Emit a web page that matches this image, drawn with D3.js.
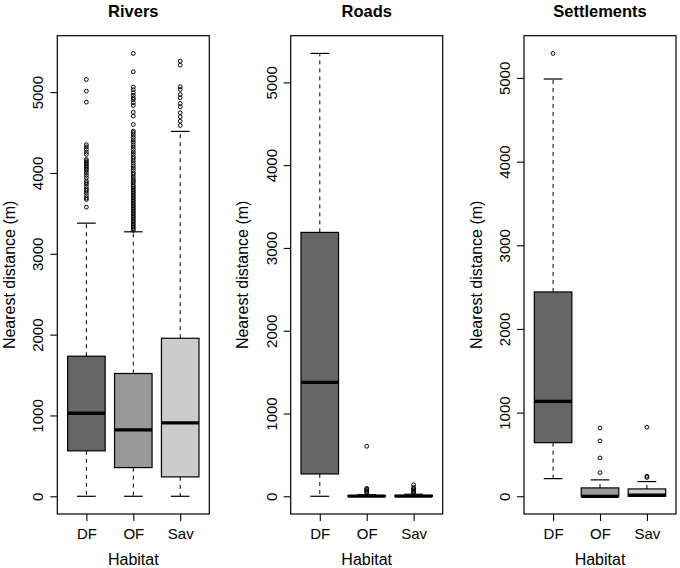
<!DOCTYPE html>
<html>
<head>
<meta charset="utf-8">
<script src="https://cdn.jsdelivr.net/npm/d3@7"></script>
<style>
  html, body { margin: 0; padding: 0; background: #fff; }
  svg { display: block; font-family: "Liberation Sans", Arial, Helvetica, sans-serif; }
</style>
</head>
<body>
<svg id="chart" width="680" height="568"></svg>
<script>
// ---------------- DATA ----------------
const categories = ["DF", "OF", "Sav"];
const panelTitles = ["Rivers", "Roads", "Settlements"];
const yTicks = [0, 1000, 2000, 3000, 4000, 5000];

// Rivers
const riversLow = [0, 0, 0];
const riversQ1 = [562, 355, 240];
const riversMedian = [1027, 822, 908];
const riversQ3 = [1733, 1519, 1955];
const riversHigh = [3379, 3272, 4514];
const riversOutDF = [3577, 3672, 3690, 3720, 3750, 3780, 3800, 3830, 3860, 3880, 3900, 3941, 3970, 4000, 4030, 4050, 4070, 4090, 4110, 4130, 4150, 4167, 4229, 4257, 4291, 4323, 4350, 4876, 5012, 5157];
const riversOutOF = [3290, 3310, 3330, 3350, 3370, 3390, 3410, 3430, 3450, 3470, 3490, 3510, 3530, 3550, 3570, 3590, 3610, 3630, 3650, 3670, 3690, 3710, 3730, 3750, 3770, 3790, 3810, 3830, 3850, 3880, 3900, 3920, 3950, 3980, 4000, 4030, 4060, 4090, 4120, 4150, 4180, 4200, 4230, 4260, 4290, 4320, 4350, 4380, 4410, 4440, 4470, 4500, 4517, 4600, 4703, 4752, 4835, 4870, 4910, 4930, 4960, 4993, 5030, 5062, 5252, 5479];
const riversOutSav = [4588, 4641, 4695, 4745, 4819, 4860, 4930, 4971, 5033, 5067, 5334, 5384];

// Roads
const roadsLow = [0, 0, 0];
const roadsQ1 = [270, 0, 0];
const roadsMedian = [1377, 2, 3];
const roadsQ3 = [3188, 8, 10];
const roadsHigh = [5350, 20, 25];
const roadsOutDF = [];
const roadsOutOF = [40, 55, 70, 85, 95, 604];
const roadsOutSav = [40, 50, 60, 75, 90, 105, 140];

// Settlements
const settleLow = [211, 0, 0];
const settleQ1 = [641, 0, 0];
const settleMedian = [1135, 0, 15];
const settleQ3 = [2442, 100, 88];
const settleHigh = [4987, 196, 176];
const settleOutDF = [5293];
const settleOutOF = [283, 459, 662, 817];
const settleOutSav = [225, 240, 825];

// ---------------- BUILD ----------------
const panels = [
  { title: panelTitles[0], low: riversLow, q1: riversQ1, med: riversMedian, q3: riversQ3, high: riversHigh, out: [riversOutDF, riversOutOF, riversOutSav] },
  { title: panelTitles[1], low: roadsLow, q1: roadsQ1, med: roadsMedian, q3: roadsQ3, high: roadsHigh, out: [roadsOutDF, roadsOutOF, roadsOutSav] },
  { title: panelTitles[2], low: settleLow, q1: settleQ1, med: settleMedian, q3: settleQ3, high: settleHigh, out: [settleOutDF, settleOutOF, settleOutSav] }
];

const fills = ["#666666", "#999999", "#cccccc"];
const lefts = [57.3, 290.7, 524];
const plotW = 152;
const plotTop = 35.7, plotBottom = 514;

const svg = d3.select("#chart");

panels.forEach((p, pi) => {
  const left = lefts[pi];
  const right = left + plotW;
  const cx = (left + right) / 2;

  const allVals = [].concat(p.low, p.high, ...p.out);
  const mn = d3.min(allVals), mx = d3.max(allVals);
  const ext = (mx - mn) * 0.04;
  const y = d3.scaleLinear().domain([mn - ext, mx + ext]).range([plotBottom, plotTop]);
  const x = d3.scaleLinear().domain([0.38, 3.62]).range([left, right]);
  const unit = x(2) - x(1);
  const halfBox = 0.4 * unit;
  const halfStaple = 0.2 * unit;

  const g = svg.append("g");

  const rows = categories.map((c, i) => ({
    c, i, pos: i + 1,
    low: p.low[i], q1: p.q1[i], med: p.med[i], q3: p.q3[i], high: p.high[i], out: p.out[i]
  }));

  // whiskers
  g.selectAll(".wu").data(rows).join("line")
    .attr("x1", d => x(d.pos)).attr("x2", d => x(d.pos))
    .attr("y1", d => y(d.q3)).attr("y2", d => y(d.high))
    .attr("stroke", "#000").attr("stroke-width", 1).attr("stroke-dasharray", "4,4");
  g.selectAll(".wl").data(rows).join("line")
    .attr("x1", d => x(d.pos)).attr("x2", d => x(d.pos))
    .attr("y1", d => y(d.q1)).attr("y2", d => y(d.low))
    .attr("stroke", "#000").attr("stroke-width", 1).attr("stroke-dasharray", "4,4");
  // staples
  g.selectAll(".su").data(rows).join("line")
    .attr("x1", d => x(d.pos) - halfStaple).attr("x2", d => x(d.pos) + halfStaple)
    .attr("y1", d => y(d.high)).attr("y2", d => y(d.high))
    .attr("stroke", "#000").attr("stroke-width", 1.2);
  g.selectAll(".sl").data(rows).join("line")
    .attr("x1", d => x(d.pos) - halfStaple).attr("x2", d => x(d.pos) + halfStaple)
    .attr("y1", d => y(d.low)).attr("y2", d => y(d.low))
    .attr("stroke", "#000").attr("stroke-width", 1.2);
  // boxes
  g.selectAll(".box").data(rows).join("rect")
    .attr("x", d => x(d.pos) - halfBox).attr("width", 2 * halfBox)
    .attr("y", d => y(d.q3)).attr("height", d => Math.max(0.01, y(d.q1) - y(d.q3)))
    .attr("fill", d => fills[d.i]).attr("stroke", "#000").attr("stroke-width", 1.2);
  // medians
  g.selectAll(".med").data(rows).join("line")
    .attr("x1", d => x(d.pos) - halfBox).attr("x2", d => x(d.pos) + halfBox)
    .attr("y1", d => y(d.med)).attr("y2", d => y(d.med))
    .attr("stroke", "#000").attr("stroke-width", 3.3);
  // outliers
  rows.forEach(r => {
    g.selectAll(null).data(r.out).join("circle")
      .attr("cx", x(r.pos)).attr("cy", d => y(d)).attr("r", 1.9)
      .attr("fill", "none").attr("stroke", "#000").attr("stroke-width", 1);
  });

  // frame
  g.append("rect").attr("x", left).attr("y", plotTop).attr("width", plotW).attr("height", plotBottom - plotTop)
    .attr("fill", "none").attr("stroke", "#000").attr("stroke-width", 1.2);

  // y axis
  const ya = g.append("g").attr("transform", `translate(${left},0)`)
    .call(d3.axisLeft(y).tickValues(yTicks).tickFormat(d3.format("d")).tickSize(7).tickSizeOuter(0));
  ya.select(".domain").remove();
  ya.selectAll(".tick line").attr("stroke", "#000").attr("stroke-width", 1.1);
  ya.selectAll(".tick text")
    .attr("transform", "rotate(-90)")
    .attr("x", 0).attr("y", -14).attr("dy", 0)
    .attr("text-anchor", "middle")
    .attr("font-size", 15).attr("fill", "#000")
    .style("font-family", "'Liberation Sans', Arial, sans-serif");

  // x axis
  const xa = g.append("g").attr("transform", `translate(0,${plotBottom})`)
    .call(d3.axisBottom(x).tickValues([1, 2, 3]).tickFormat(d => categories[d - 1]).tickSize(7).tickSizeOuter(0));
  xa.select(".domain").remove();
  xa.selectAll(".tick line").attr("stroke", "#000").attr("stroke-width", 1.1);
  xa.selectAll(".tick text")
    .attr("y", 24.5).attr("dy", 0)
    .attr("font-size", 15).attr("fill", "#000")
    .style("font-family", "'Liberation Sans', Arial, sans-serif");

  // axis titles
  g.append("text").attr("x", cx).attr("y", 564.5).attr("text-anchor", "middle")
    .attr("font-size", 16).text("Habitat");
  g.append("text")
    .attr("transform", `translate(${left - 42.5},${(plotTop + plotBottom) / 2}) rotate(-90)`)
    .attr("text-anchor", "middle").attr("font-size", 16).text("Nearest distance (m)");
  // panel title
  g.append("text").attr("x", cx).attr("y", 17).attr("text-anchor", "middle")
    .attr("font-size", 16.5).attr("font-weight", "bold").text(p.title);
});
</script>
</body>
</html>
